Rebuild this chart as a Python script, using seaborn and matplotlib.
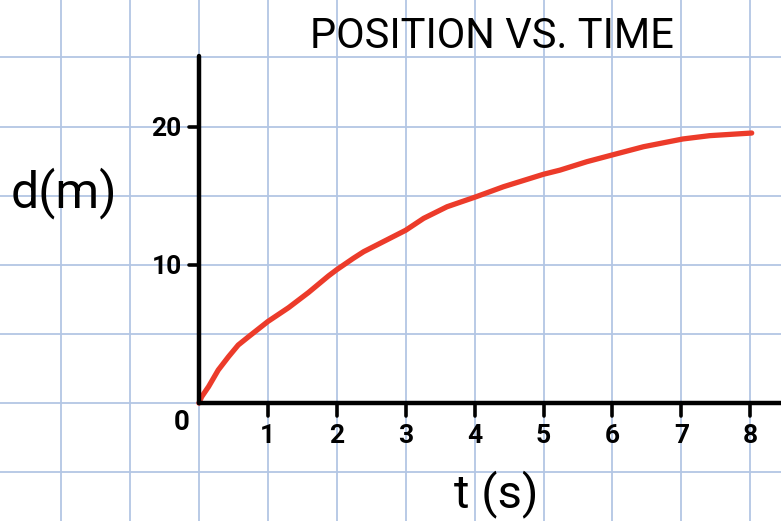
import matplotlib
matplotlib.use("Agg")
import matplotlib.pyplot as plt
import seaborn as sns
import pandas as pd

# Position of the object over time
time_s = [0, 0.04, 0.14, 0.28, 0.43, 0.57, 0.72, 1.0, 1.3, 1.59, 1.88, 2.0,
          2.24, 2.39, 3.0, 3.26, 3.6, 4.02, 4.42, 5.0, 5.24, 5.63, 6.0, 6.45,
          7.02, 7.41, 8.02]
dist_m = [0, 0.46, 1.19, 2.39, 3.36, 4.2, 4.8, 5.9, 6.9, 8.0, 9.2, 9.65,
          10.47, 10.95, 12.5, 13.36, 14.2, 14.92, 15.65, 16.55, 16.85, 17.46,
          17.95, 18.54, 19.1, 19.34, 19.53]

x_ticks = [1, 2, 3, 4, 5, 6, 7, 8]
x_tick_labels = ["1", "2", "3", "4", "5", "6", "7", "8"]
y_ticks = [10, 20]
y_tick_labels = ["10", "20"]

title = "POSITION VS. TIME"
x_label = "t (s)"
y_label = "d(m)"

sns.set_theme(style="white")
plt.rcParams["font.family"] = ["Roboto", "DejaVu Sans"]

fig = plt.figure(figsize=(7.81, 5.21), dpi=100)
ax = fig.add_axes([0, 0, 1, 1])

# graph-paper grid: one square = 1 s horizontally, 5 m vertically
ax.set_xlim(-2.886, 8.445)
ax.set_ylim(-8.525, 29.15)
ax.set_xticks(range(-2, 9))
ax.set_yticks(range(-5, 30, 5))
ax.grid(True, color="#b3c6e4", linewidth=1.3)
ax.tick_params(length=0, labelbottom=False, labelleft=False)
for s in ax.spines.values():
    s.set_visible(False)

df = pd.DataFrame({"t": time_s, "d": dist_m})
sns.lineplot(data=df, x="t", y="d", ax=ax, color="#ec3b2a", linewidth=3.8,
             solid_capstyle="round", solid_joinstyle="round", zorder=4)

# hand-drawn axes
ax.plot([0, 0], [0, 25.1], color="black", lw=3.2, solid_capstyle="round", zorder=5)
ax.plot([0, 8.6], [0, 0], color="black", lw=3.2, solid_capstyle="round", zorder=5)
for xt, lab in zip(x_ticks, x_tick_labels):
    ax.plot([xt, xt], [0, -0.9], color="black", lw=2.6, solid_capstyle="round", zorder=5)
    ax.text(xt, -2.35, lab, ha="center", va="center", fontsize=19,
            fontweight="bold", color="black")
for yt, lab in zip(y_ticks, y_tick_labels):
    ax.plot([-0.14, 0], [yt, yt], color="black", lw=2.6, solid_capstyle="round", zorder=5)
    ax.text(-0.25, yt - 0.15, lab, ha="right", va="center", fontsize=19,
            fontweight="bold", color="black")
ax.text(-0.245, -1.4, "0", ha="center", va="center", fontsize=20,
        fontweight="bold", color="black")

ax.text(4.245, 26.5, title, ha="center", va="center", fontsize=30, color="black")
ax.text(4.31, -6.55, x_label, ha="center", va="center", fontsize=34, color="black")
ax.text(-1.96, 15.2, y_label, ha="center", va="center", fontsize=36, color="black")

fig.savefig("out.png", dpi=100)
